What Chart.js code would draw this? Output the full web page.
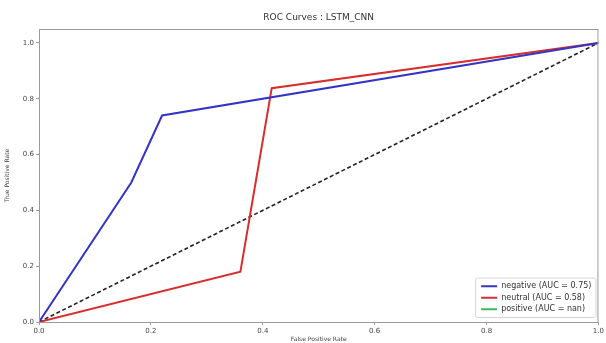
<!DOCTYPE html>
<html>
<head>
<meta charset="utf-8">
<script src="https://cdn.jsdelivr.net/npm/chart.js@4/dist/chart.umd.min.js"></script>
<style>
    html, body { margin: 0; padding: 0; background: #fff; }
    #wrap { width: 606px; height: 343px; position: relative; }
</style>
</head>
<body>
<div id="wrap"><canvas id="roc"></canvas></div>
<script>
// values
const negativeFpr = [0, 0.165, 0.22, 1];
const negativeTpr = [0, 0.50, 0.74, 1];
const neutralFpr = [0, 0.36, 0.416, 1];
const neutralTpr = [0, 0.18, 0.838, 1];
const positiveFpr = [0, 1];
const positiveTpr = [NaN, NaN];
const chanceLine = [0, 1];
const seriesLabels = ['negative (AUC = 0.75)', 'neutral (AUC = 0.58)', 'positive (AUC = nan)'];
const tickValues = [0, 0.2, 0.4, 0.6, 0.8, 1.0];

const FONT = "'DejaVu Sans', sans-serif";

function toPoints(xs, ys){
    return xs.map((x, i) => ({x: x, y: ys[i]}));
}

// frame round the plot area, like the matplotlib spines
const framePlugin = {
    id: 'frame',
    afterDraw(chart){
        const {ctx, chartArea: a} = chart;
        ctx.save();
        ctx.strokeStyle = '#9a9a9a';
        ctx.lineWidth = 1;
        ctx.strokeRect(a.left + 0.5, a.top + 0.5, a.right - a.left - 1, a.bottom - a.top);
        ctx.restore();
    }
};

// title above the axes
const titlePlugin = {
    id: 'plotTitle',
    afterDraw(chart){
        const {ctx, chartArea: a} = chart;
        ctx.save();
        ctx.font = '9px ' + FONT;
        ctx.fillStyle = '#333';
        ctx.textAlign = 'center';
        ctx.textBaseline = 'middle';
        ctx.fillText('ROC Curves : LSTM_CNN', (a.left + a.right) / 2, 18);
        ctx.restore();
    }
};

// legend in the lower right corner, inside the axes
const legendPlugin = {
    id: 'lowerRightLegend',
    afterDraw(chart){
        const {ctx, chartArea: a} = chart;
        const items = chart.data.datasets.filter(d => !d.hideInLegend);
        ctx.save();
        ctx.font = '8px ' + FONT;
        const textW = Math.max(...items.map(d => ctx.measureText(d.label).width));
        const rowH = 11.5;
        const boxW = 6 + 16 + 4 + textW + 4;
        const boxH = items.length * rowH + 5;
        const right = a.right - 3;
        const bottom = a.bottom - 5;
        const left = right - boxW;
        const top = bottom - boxH;

        ctx.fillStyle = 'rgba(255,255,255,0.85)';
        ctx.strokeStyle = '#d6d6d6';
        ctx.lineWidth = 1;
        ctx.beginPath();
        ctx.roundRect(left + 0.5, top + 0.5, boxW, boxH, 2);
        ctx.fill();
        ctx.stroke();

        items.forEach((d, i) => {
            const y = top + 2.5 + rowH * i + rowH / 2 + 0.5;
            ctx.strokeStyle = d.borderColor;
            ctx.lineWidth = 2;
            ctx.beginPath();
            ctx.moveTo(left + 6, y);
            ctx.lineTo(left + 22, y);
            ctx.stroke();
            ctx.fillStyle = '#333';
            ctx.textAlign = 'left';
            ctx.textBaseline = 'middle';
            ctx.fillText(d.label, left + 26, y);
        });
        ctx.restore();
    }
};

new Chart(document.getElementById('roc'), {
    type: 'line',
    data: {
        datasets: [
            {
                label: seriesLabels[0],
                data: toPoints(negativeFpr, negativeTpr),
                borderColor: '#3434c4',
                borderWidth: 2,
                pointRadius: 0,
                tension: 0
            },
            {
                label: seriesLabels[1],
                data: toPoints(neutralFpr, neutralTpr),
                borderColor: '#d92c2c',
                borderWidth: 2,
                pointRadius: 0,
                tension: 0
            },
            {
                label: seriesLabels[2],
                data: toPoints(positiveFpr, positiveTpr),
                borderColor: '#3cb95a',
                borderWidth: 2,
                pointRadius: 0,
                spanGaps: false
            },
            {
                label: 'chance',
                hideInLegend: true,
                data: toPoints(chanceLine, chanceLine),
                borderColor: '#222',
                borderWidth: 1.6,
                borderDash: [4, 2.5],
                pointRadius: 0
            }
        ]
    },
    options: {
        responsive: true,
        maintainAspectRatio: false,
        animation: false,
        layout: { padding: { top: 29, right: 6, left: 0, bottom: 0 } },
        plugins: {
            legend: { display: false },
            title: { display: false },
            tooltip: { enabled: false }
        },
        scales: {
            x: {
                type: 'linear',
                min: 0,
                max: 1,
                afterFit: s => { s.height = 21; },
                afterBuildTicks: s => { s.ticks = tickValues.map(v => ({value: v})); },
                grid: { display: true, drawOnChartArea: false, tickLength: 3, color: '#9a9a9a' },
                border: { display: false },
                ticks: {
                    font: { family: FONT, size: 7 },
                    color: '#444',
                    padding: 2,
                    maxRotation: 0,
                    callback: v => v.toFixed(1)
                },
                title: {
                    display: true,
                    text: 'False Positive Rate',
                    font: { family: FONT, size: 6 },
                    color: '#444',
                    padding: 0
                }
            },
            y: {
                type: 'linear',
                min: 0,
                max: 1.05,
                afterFit: s => { s.width = 39; },
                afterBuildTicks: s => { s.ticks = tickValues.map(v => ({value: v})); },
                grid: { display: true, drawOnChartArea: false, tickLength: 3, color: '#9a9a9a' },
                border: { display: false },
                ticks: {
                    font: { family: FONT, size: 7 },
                    color: '#444',
                    padding: 2,
                    callback: v => v.toFixed(1)
                },
                title: {
                    display: true,
                    text: 'True Positive Rate',
                    font: { family: FONT, size: 6 },
                    color: '#444',
                    padding: { top: 4, bottom: 0 }
                }
            }
        }
    },
    plugins: [framePlugin, titlePlugin, legendPlugin]
});
</script>
</body>
</html>
